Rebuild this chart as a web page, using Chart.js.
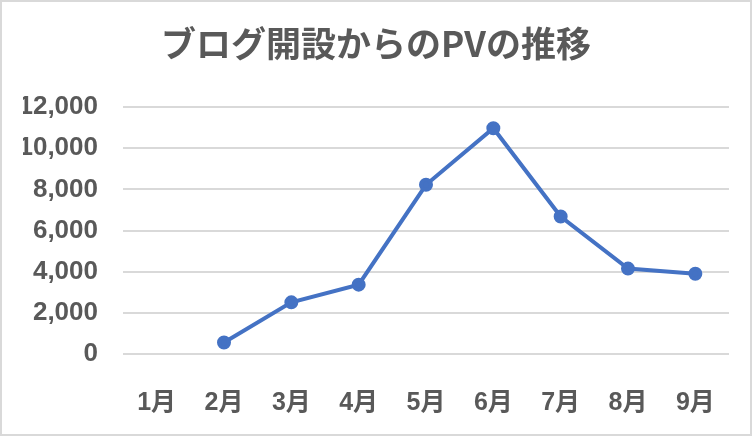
<!DOCTYPE html>
<html>
<head>
<meta charset="utf-8">
<script src="https://cdn.jsdelivr.net/npm/chart.js@4"></script>
<style>
  html, body { margin: 0; padding: 0; background: #fff; }
  #wrap { position: relative; width: 752px; height: 436px; box-sizing: border-box; border: 2px solid #d9d9d9; }
  canvas { display: block; }
</style>
</head>
<body>
<div id="wrap"><canvas id="chart" width="748" height="432"></canvas></div>
<script>
const ctx = document.getElementById("chart").getContext("2d");

// data
const months = ["1月", "2月", "3月", "4月", "5月", "6月", "7月", "8月", "9月"];
const pageViews = [null, 560, 2510, 3370, 8220, 10970, 6680, 4150, 3900];
const yTicks = [0, 2000, 4000, 6000, 8000, 10000, 12000];

const textColor = "#595959";
const fontFamily = "'Liberation Sans', 'Noto Sans CJK JP', sans-serif";

new Chart(ctx, {
  type: "line",
  data: {
    labels: months,
    datasets: [{
      label: "PV",
      data: pageViews,
      borderColor: "#4472C4",
      backgroundColor: "#4472C4",
      borderWidth: 4,
      pointRadius: 5,
      pointHoverRadius: 5,
      tension: 0
    }]
  },
  options: {
    responsive: false,
    animation: false,
    layout: { padding: { top: 6, left: 21, right: 21, bottom: 0 } },
    plugins: {
      legend: { display: false },
      tooltip: { enabled: false },
      title: {
        display: true,
        text: "ブログ開設からのPVの推移",
        color: textColor,
        font: { family: "'Noto Sans CJK JP', sans-serif", size: 35, weight: "bold" },
        padding: { top: 15, bottom: 42 }
      }
    },
    scales: {
      x: {
        offset: true,
        grid: { display: false },
        border: { display: false },
        afterFit: (s) => { s.height = 80; },
        ticks: {
          color: textColor,
          padding: 26,
          font: { family: fontFamily, size: 25, weight: "bold" }
        }
      },
      y: {
        min: 0,
        max: 12000,
        afterBuildTicks: (s) => { s.ticks = yTicks.map(v => ({ value: v })); },
        afterFit: (s) => { s.width = 100; },
        grid: { color: "#d9d9d9", lineWidth: 2, drawTicks: false },
        border: { display: false },
        ticks: {
          color: textColor,
          padding: 25,
          font: { family: fontFamily, size: 26, weight: "bold" },
          callback: (v) => v.toLocaleString("en-US")
        }
      }
    }
  }
});
</script>
</body>
</html>
